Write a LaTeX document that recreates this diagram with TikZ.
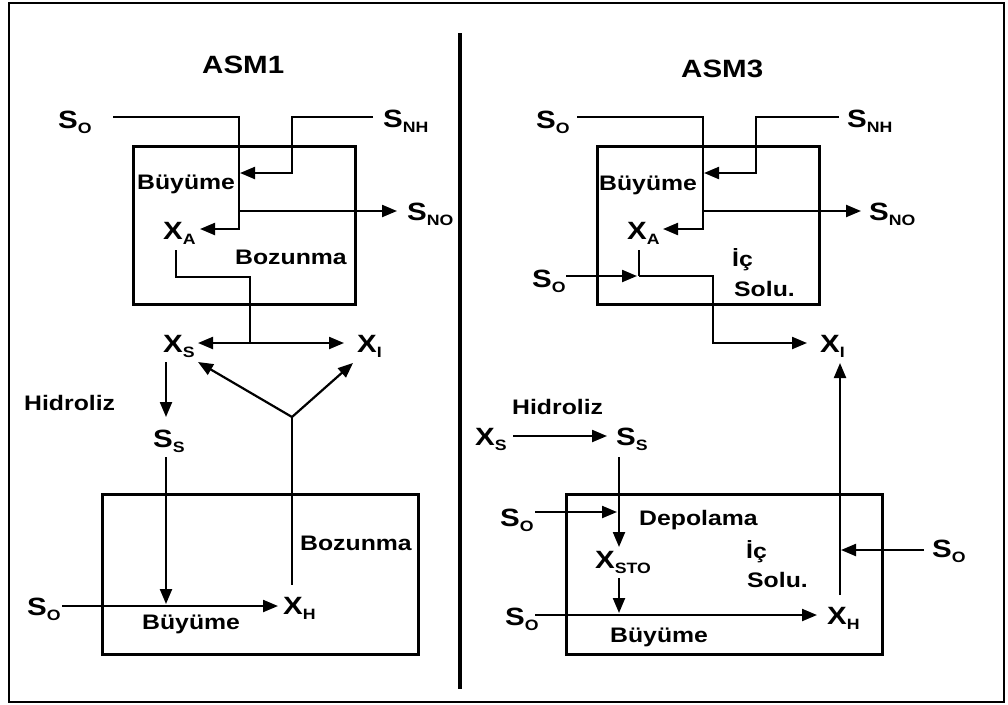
\documentclass[tikz,border=0pt]{standalone}
\usepackage{fontspec}
\setmainfont{Liberation Sans}[FakeStretch=1.18]
\usetikzlibrary{arrows.meta}
\newcommand{\sy}[2]{#1\raisebox{-5pt}{\fontsize{15}{15}\selectfont #2}}
\tikzset{
  lbl/.style={inner sep=0pt, anchor=base west, font=\fontsize{25}{25}\selectfont\bfseries},
  txt/.style={inner sep=0pt, anchor=base west, font=\fontsize{21}{21}\selectfont\bfseries},
  ttl/.style={inner sep=0pt, anchor=base west, font=\fontsize{25}{25}\selectfont\bfseries},
  flow/.style={line width=2.2pt, -{Triangle[length=15pt,width=12pt]}},
  wire/.style={line width=2.2pt},
  proc/.style={line width=3pt},
}
\begin{document}
\begin{tikzpicture}[x=1pt,y=-1pt]
\useasboundingbox (0,0) rectangle (1008,704);
\draw[line width=2.5pt] (9,3) rectangle (1004,702);
\draw[line width=4pt] (460,33) -- (460,689);

% ---------- ASM1 ----------
\node[ttl] (t1) at (202,73) {ASM1};
\draw[proc] (133,146) rectangle (355,304);
\draw[proc] (102,494) rectangle (418,654);

\node[lbl] (so1) at (58,128) {\sy{S}{O}};
\node[lbl] (snh1) at (383,127) {\sy{S}{NH}};
\node[lbl] (sno1) at (407,220) {\sy{S}{NO}};
\node[lbl] (xa1) at (163,239) {\sy{X}{A}};
\node[lbl] (xs1) at (163,352) {\sy{X}{S}};
\node[lbl] (xi1) at (357,352) {\sy{X}{I}};
\node[lbl] (ss1) at (153,447) {\sy{S}{S}};
\node[lbl] (sob1) at (27,615) {\sy{S}{O}};
\node[lbl] (xh1) at (283,614) {\sy{X}{H}};
\node[txt] (g1) at (137,189) {Büyüme};
\node[txt] (d1) at (235,264) {Bozunma};
\node[txt] (h1) at (24,410) {Hidroliz};
\node[txt] (d2) at (300,550) {Bozunma};
\node[txt] (g2) at (142,629) {Büyüme};

\coordinate (a1) at (113,117);
\coordinate (a2) at (239,117);
\coordinate (a3) at (239,229);
\coordinate (a4) at (200,229);
\draw[flow] (a1) -- (a2) -- (a3) -- (a4);
\coordinate (b1) at (373,117);
\coordinate (b2) at (292,117);
\coordinate (b3) at (292,173);
\coordinate (b4) at (240,173);
\draw[flow] (b1) -- (b2) -- (b3) -- (b4);
\coordinate (c1) at (239,211);
\coordinate (c2) at (397,211);
\draw[flow] (c1) -- (c2);
\coordinate (e1) at (176,250);
\coordinate (e2) at (176,277);
\coordinate (e3) at (250,277);
\coordinate (e4) at (250,343);
\draw[wire] (e1) -- (e2) -- (e3) -- (e4);
\coordinate (e5) at (198,343);
\coordinate (e6) at (344,343);
\draw[flow] (e4) -- (e5);
\draw[flow] (e4) -- (e6);
\coordinate (f0) at (292,417);
\coordinate (f1) at (198,362);
\coordinate (f2) at (353,363);
\coordinate (f3) at (292,585);
\draw[flow] (f0) -- (f1);
\draw[flow] (f0) -- (f2);
\draw[wire] (f0) -- (f3);
\coordinate (h0) at (166,362);
\coordinate (h2) at (166,417);
\draw[flow] (h0) -- (h2);
\coordinate (k0) at (166,457);
\coordinate (k1) at (166,604);
\draw[flow] (k0) -- (k1);
\coordinate (m0) at (62,606);
\coordinate (m1) at (278,606);
\draw[flow] (m0) -- (m1);

% ---------- ASM3 ----------
\node[ttl] (t3) at (681,77) {ASM3};
\draw[proc] (597,146) rectangle (819,304);
\draw[proc] (566,494) rectangle (882,654);

\node[lbl] (so3) at (536,128) {\sy{S}{O}};
\node[lbl] (snh3) at (847,127) {\sy{S}{NH}};
\node[lbl] (sno3) at (869,220) {\sy{S}{NO}};
\node[lbl] (xa3) at (627,239) {\sy{X}{A}};
\node[lbl] (som3) at (532,287) {\sy{S}{O}};
\node[lbl] (xi3) at (820,352) {\sy{X}{I}};
\node[lbl] (xs3) at (475,445) {\sy{X}{S}};
\node[lbl] (ss3) at (616,445) {\sy{S}{S}};
\node[lbl] (sod3) at (500,526) {\sy{S}{O}};
\node[lbl] (xsto3) at (595,568) {\sy{X}{STO}};
\node[lbl] (sor3) at (932,557) {\sy{S}{O}};
\node[lbl] (sob3) at (505,625) {\sy{S}{O}};
\node[lbl] (xh3) at (827,624) {\sy{X}{H}};
\node[txt] (g3) at (599,190) {Büyüme};
\node[txt] (ic3) at (732,266) {İç};
\node[txt] (sl3) at (734,296) {Solu.};
\node[txt] (h3) at (512,414) {Hidroliz};
\node[txt] (dp3) at (639,525) {Depolama};
\node[txt] (ic4) at (746,558) {İç};
\node[txt] (sl4) at (747,587) {Solu.};
\node[txt] (g4) at (610,642) {Büyüme};

\coordinate (p1) at (577,117);
\coordinate (p2) at (703,117);
\coordinate (p3) at (703,229);
\coordinate (p4) at (663,229);
\draw[flow] (p1) -- (p2) -- (p3) -- (p4);
\coordinate (q1) at (839,117);
\coordinate (q2) at (756,117);
\coordinate (q3) at (756,173);
\coordinate (q4) at (704,173);
\draw[flow] (q1) -- (q2) -- (q3) -- (q4);
\coordinate (r1) at (703,211);
\coordinate (r2) at (861,211);
\draw[flow] (r1) -- (r2);
\coordinate (s1) at (639,250);
\coordinate (s2) at (639,276);
\draw[wire] (s1) -- (s2);
\coordinate (s3) at (566,276);
\coordinate (s4) at (637,276);
\draw[flow] (s3) -- (s4);
\coordinate (s5) at (713,276);
\coordinate (s6) at (713,343);
\coordinate (s7) at (807,343);
\draw[flow] (s2) -- (s5) -- (s6) -- (s7);
\coordinate (u1) at (840,595);
\coordinate (u2) at (840,363);
\draw[flow] (u1) -- (u2);
\coordinate (v1) at (924,550);
\coordinate (v2) at (841,550);
\draw[flow] (v1) -- (v2);
\coordinate (w1) at (513,436);
\coordinate (w2) at (607,436);
\draw[flow] (w1) -- (w2);
\coordinate (y1) at (619,457);
\coordinate (y2) at (619,547);
\draw[flow] (y1) -- (y2);
\coordinate (z1) at (535,512);
\coordinate (z2) at (617,512);
\draw[flow] (z1) -- (z2);
\coordinate (n1) at (619,578);
\coordinate (n2) at (619,613);
\draw[flow] (n1) -- (n2);
\coordinate (o1) at (535,615);
\coordinate (o2) at (817,615);
\draw[flow] (o1) -- (o2);
\end{tikzpicture}
\end{document}
